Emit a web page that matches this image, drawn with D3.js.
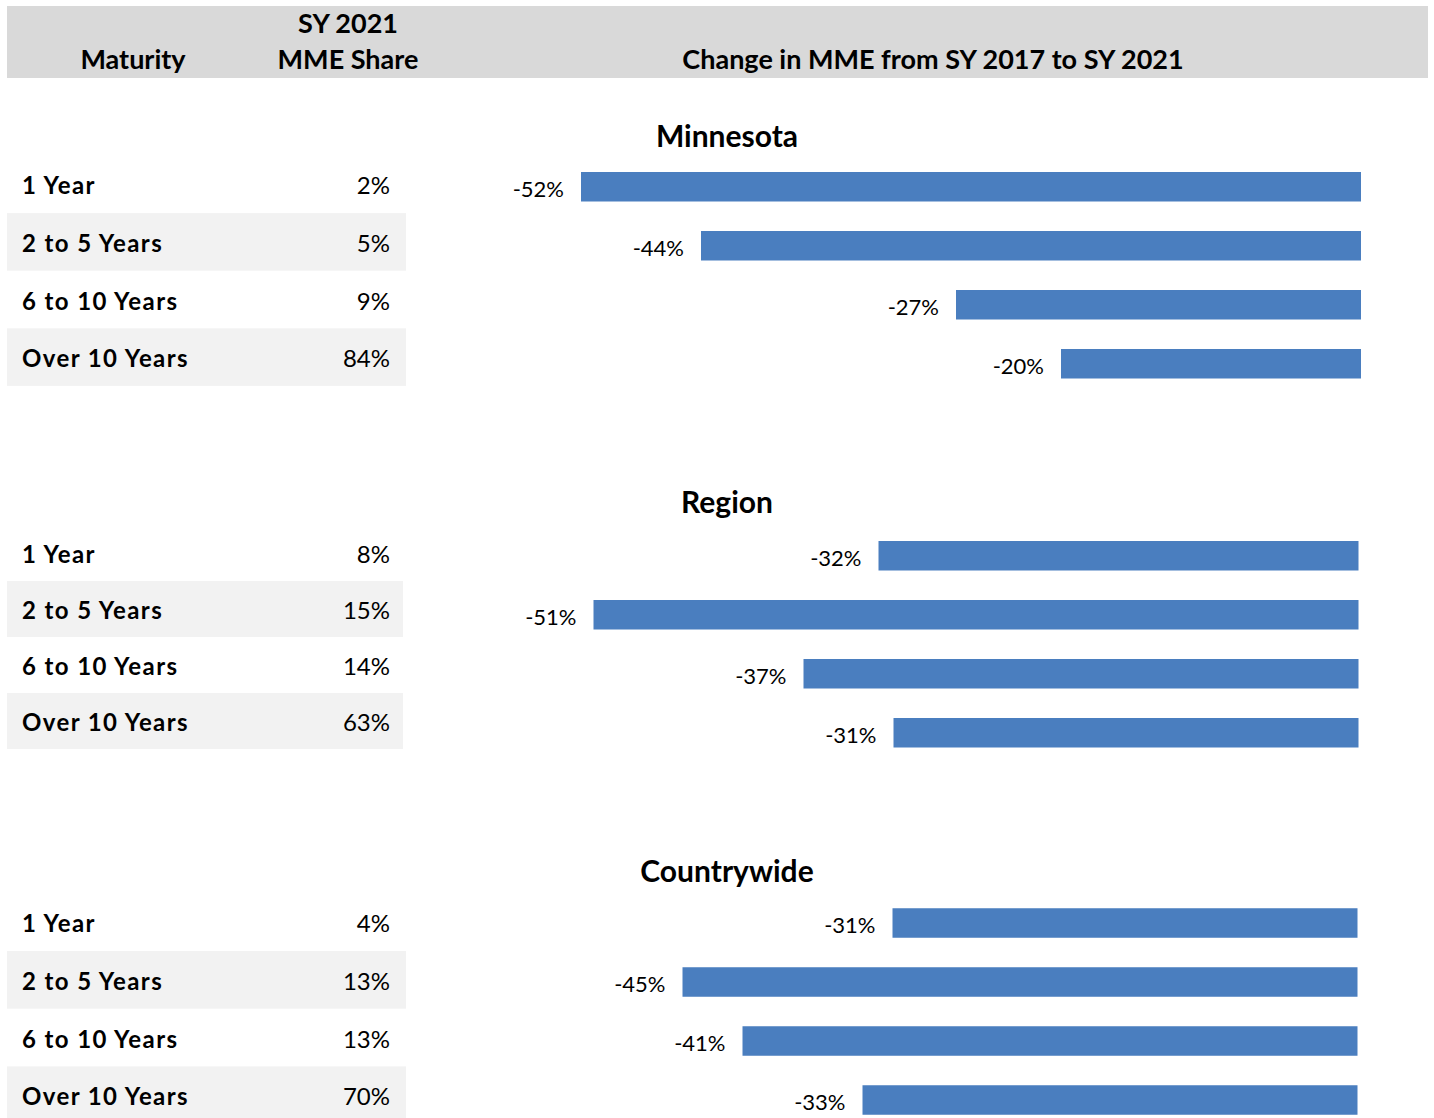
<!DOCTYPE html>
<html>
<head>
<meta charset="utf-8">
<script src="https://cdn.jsdelivr.net/npm/d3@7"></script>
<style>
  body { margin: 0; background: #fff; }
  svg text { font-family: Lato, "Open Sans", sans-serif; fill: #000; }
</style>
</head>
<body>
<div id="chart"></div>
<script>
// data
var maturities = ["1 Year", "2 to 5 Years", "6 to 10 Years", "Over 10 Years"];
var groups = ["Minnesota", "Region", "Countrywide"];
var shareMinnesota = [2, 5, 9, 84];
var shareRegion = [8, 15, 14, 63];
var shareCountrywide = [4, 13, 13, 70];
var changeMinnesota = [-52, -44, -27, -20];
var changeRegion = [-32, -51, -37, -31];
var changeCountrywide = [-31, -45, -41, -33];

var shares = [shareMinnesota, shareRegion, shareCountrywide];
var changes = [changeMinnesota, changeRegion, changeCountrywide];

// layout per block
var layout = [
	{ title: 146.5, rowTop: 155.5, rowStep: 57.6, bandRight: 406, barTop: 157.25, barRight: 1361 },
	{ title: 513, rowTop: 525, rowStep: 56, bandRight: 403, barTop: 526.25, barRight: 1358.5 },
	{ title: 882, rowTop: 893.3, rowStep: 57.7, bandRight: 406, barTop: 893.5, barRight: 1357.5 }
];

var width = 1434, height = 1118;
var pxPerPct = 15;

var svg = d3.select("#chart")
	.append("svg")
	.attr("width", width)
	.attr("height", height);

// header
svg.append("rect")
	.attr("x", 7).attr("y", 6)
	.attr("width", 1421).attr("height", 72)
	.attr("fill", "#d9d9d9");

var header = svg.append("g")
	.attr("font-weight", "bold")
	.attr("font-size", 27)
	.attr("text-anchor", "middle");
header.append("text").attr("x", 133).attr("y", 69).text("Maturity");
header.append("text").attr("x", 348).attr("y", 33).text("SY 2021");
header.append("text").attr("x", 348).attr("y", 69).text("MME Share");
header.append("text").attr("x", 933).attr("y", 69).text("Change in MME from SY 2017 to SY 2021");

groups.forEach(function (name, gi) {
	var L = layout[gi];
	var g = svg.append("g");

	var rowY = d3.scaleBand()
		.domain(maturities)
		.range([L.rowTop, L.rowTop + L.rowStep * maturities.length]);

	var barY = d3.scaleBand()
		.domain(maturities)
		.range([L.barTop, L.barTop + 236])
		.paddingInner(0.5)
		.paddingOuter(0.25);

	var x = d3.scaleLinear()
		.domain([-60, 0])
		.range([L.barRight - 60 * pxPerPct, L.barRight]);

	// shaded rows
	g.selectAll("rect.band")
		.data(maturities.filter(function (d, i) { return i % 2 === 1; }))
		.enter()
		.append("rect")
		.attr("class", "band")
		.attr("x", 7)
		.attr("y", function (d) { return rowY(d); })
		.attr("width", L.bandRight - 7)
		.attr("height", rowY.bandwidth())
		.attr("fill", "#f2f2f2");

	// table labels and shares
	g.selectAll("text.mat")
		.data(maturities)
		.enter()
		.append("text")
		.attr("class", "mat")
		.attr("x", 22)
		.attr("y", function (d) { return rowY(d) + rowY.bandwidth() / 2 + 10; })
		.attr("font-weight", "bold")
		.attr("font-size", 24)
		.attr("letter-spacing", 1.4)
		.text(function (d) { return d; });

	g.selectAll("text.share")
		.data(shares[gi])
		.enter()
		.append("text")
		.attr("class", "share")
		.attr("x", 390)
		.attr("y", function (d, i) { return rowY(maturities[i]) + rowY.bandwidth() / 2 + 10; })
		.attr("text-anchor", "end")
		.attr("font-size", 24)
		.text(function (d) { return d + "%"; });

	// title
	g.append("text")
		.attr("x", 727)
		.attr("y", L.title)
		.attr("text-anchor", "middle")
		.attr("font-weight", "bold")
		.attr("font-size", 30)
		.text(name);

	// bars
	g.selectAll("rect.bar")
		.data(changes[gi])
		.enter()
		.append("rect")
		.attr("class", "bar")
		.attr("x", function (d) { return x(d); })
		.attr("y", function (d, i) { return barY(maturities[i]); })
		.attr("width", function (d) { return x(0) - x(d); })
		.attr("height", barY.bandwidth())
		.attr("fill", "#4a7ebf");

	g.selectAll("text.val")
		.data(changes[gi])
		.enter()
		.append("text")
		.attr("class", "val")
		.attr("x", function (d) { return x(d) - 17; })
		.attr("y", function (d, i) { return barY(maturities[i]) + barY.bandwidth() / 2 + 10; })
		.attr("text-anchor", "end")
		.attr("font-size", 22)
		.text(function (d) { return d + "%"; });
});
</script>
</body>
</html>
